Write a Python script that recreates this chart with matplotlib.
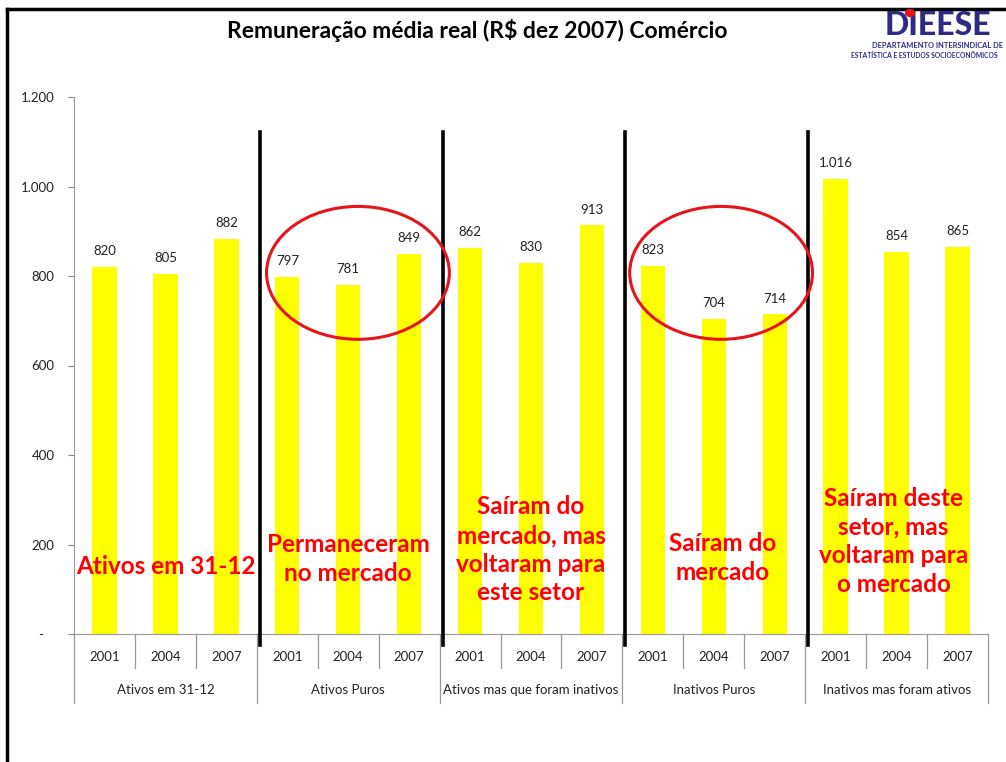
import matplotlib
matplotlib.use('Agg')
import matplotlib.pyplot as plt
from matplotlib.patches import Ellipse, Circle
from matplotlib.lines import Line2D
import matplotlib.transforms as mtransforms

plt.rcParams['font.family'] = ['Lato', 'DejaVu Sans']

# dados
grupos = ['Ativos em 31-12', 'Ativos Puros', 'Ativos mas que foram inativos',
          'Inativos Puros', 'Inativos mas foram ativos']
anos = ['2001', '2004', '2007']
remuneracao = [820, 805, 882,
               797, 781, 849,
               862, 830, 913,
               823, 704, 714,
               1016, 854, 865]
notas = ['Ativos em 31-12', 'Permaneceram\nno mercado',
         'Saíram do\nmercado, mas\nvoltaram para\neste setor',
         'Saíram do\nmercado', 'Saíram deste\nsetor, mas\nvoltaram para\no mercado']
yticks = [0, 200, 400, 600, 800, 1000, 1200]
yticklabels = ['-   ', '200', '400', '600', '800', '1.000', '1.200']

W, H = 1006, 762
fig = plt.figure(figsize=(W / 100, H / 100), dpi=100)
fig.patch.set_facecolor('white')
ax = fig.add_axes([74 / W, 128 / H, 914 / W, 537 / H])

n = len(remuneracao)
x = list(range(n))
ax.bar(x, remuneracao, width=0.4, color='#FFFF00', zorder=2)
for xi, v in zip(x, remuneracao):
    ax.text(xi, v + 22, f'{v:,}'.replace(',', '.'), ha='center', va='bottom',
            fontsize=9.5, color='#222222')

ax.set_xlim(-0.5, n - 0.5)
ax.set_ylim(0, 1200)
ax.set_yticks(yticks)
ax.set_yticklabels(yticklabels, fontsize=9.5, color='#222222')
ax.tick_params(axis='y', length=4, color='#888888', pad=10)
ax.set_xticks([])
for s in ['top', 'right']:
    ax.spines[s].set_visible(False)
for s in ['left', 'bottom']:
    ax.spines[s].set_color('#999999')

# rótulos hierárquicos do eixo x
trans = mtransforms.blended_transform_factory(ax.transData, ax.transAxes)
for xi in x:
    ax.text(xi, -0.043, anos[xi % 3], transform=trans, ha='center', va='center',
            fontsize=9.5, color='#222222')
for k in range(n + 1):
    b = k - 0.5
    y0 = -0.1285 if k % 3 == 0 else -0.063
    ax.add_line(Line2D([b, b], [0, y0], transform=trans, color='#999999',
                       lw=0.9, clip_on=False))
for g, nome in enumerate(grupos):
    ax.text(3 * g + 1, -0.104, nome, transform=trans, ha='center', va='center',
            fontsize=9.5, color='#222222')

# separadores pretos
for k in range(1, 5):
    b = 3 * k - 0.5 + 0.05
    ax.add_line(Line2D([b, b], [-0.0205, 0.935], transform=trans, color='black',
                       lw=2.6, clip_on=False, zorder=3))

# textos em vermelho
nota_pos = [(1.0, 150), (4.0, 168), (7.0, 188), (10.15, 170), (12.95, 207)]
for (nx, ny), t in zip(nota_pos, notas):
    ax.text(nx, ny, t, ha='center', va='center', fontsize=17.5, fontweight='bold',
            color='#FF0000', linespacing=1.3, zorder=4)

# elipses
for cx in [4.16, 10.12]:
    ax.add_patch(Ellipse((cx, 807), 3.0, 297, fill=False, edgecolor='#E8141B',
                         lw=2.2, zorder=4, clip_on=False))

# título
fig.text(477 / W, 1 - 31 / H, 'Remuneração média real (R$ dez 2007) Comércio',
         ha='center', va='center', fontsize=16.5, fontweight='bold', color='black')

# logo
fig.text(938 / W, 1 - 35 / H, 'DIEESE', ha='center', va='baseline', fontsize=23,
         fontweight='black', color='#2E2A86')
fig.add_artist(Circle((910 / W, 1 - 13 / H), 4.5 / W, transform=fig.transFigure,
                      color='#E8141B', zorder=5))
fig.text(938 / W, 1 - 45 / H, 'DEPARTAMENTO INTERSINDICAL DE', ha='center',
         va='center', fontsize=5.4, fontweight='bold', color='#2E2A86')
fig.text(851 / W, 1 - 55 / H, 'ESTATÍSTICA E ESTUDOS SOCIOECONÔMICOS', ha='left',
         va='center', fontsize=4.9, fontweight='bold', color='#2E2A86')

# moldura
fig.add_artist(Line2D([7 / W, 7 / W], [0, 1 - 9 / H], transform=fig.transFigure,
                      color='black', lw=2.5))
fig.add_artist(Line2D([7 / W, 1], [1 - 9 / H, 1 - 9 / H], transform=fig.transFigure,
                      color='black', lw=2.5))

fig.savefig('out.png', dpi=100)
